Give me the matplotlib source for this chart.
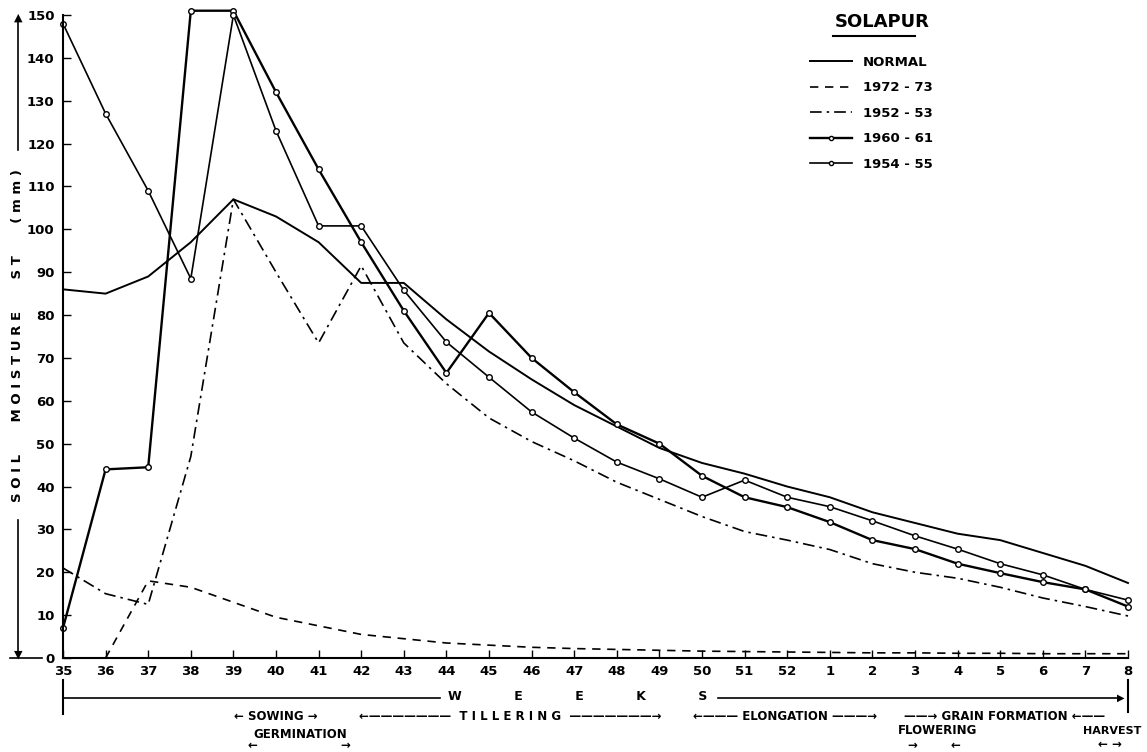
import matplotlib
matplotlib.use("Agg")
import matplotlib.pyplot as plt
from matplotlib.lines import Line2D

weeks = ["35", "36", "37", "38", "39", "40", "41", "42", "43", "44", "45", "46", "47",
         "48", "49", "50", "51", "52", "1", "2", "3", "4", "5", "6", "7", "8"]

normal = [86, 85, 89, 97, 107, 103, 97, 87.5, 87.5, 79, 71.5, 65, 59, 54, 49, 45.5,
          43, 40, 37.5, 34, 31.5, 29, 27.5, 24.5, 21.5, 17.5]
y1972 = [None, 0, 18, 16.5, 13, 9.5, 7.5, 5.5, 4.5, 3.5, 3, 2.5, 2.2, 2, 1.8, 1.6,
         1.5, 1.4, 1.3, 1.2, 1.2, 1.1, 1.1, 1, 1, 1]
y1952 = [21, 15, 12.5, 47, 107, 90, 73.5, 91.5, 73.5, 64, 56, 50.5, 46, 41, 37, 33,
         29.5, 27.5, 25.3, 22, 20, 18.6, 16.5, 14, 12, 9.8]
y1960 = [7, 44, 44.5, 151, 151, 132, 114, 97, 81, 66.5, 80.5, 70, 62, 54.5, 50, 42.5,
         37.5, 35.2, 31.7, 27.5, 25.4, 22, 19.8, 17.7, 16, 12]
y1954 = [148, 127, 109, 88.5, 150, 123, 100.8, 100.8, 85.8, 73.7, 65.5, 57.4, 51.3,
         45.7, 41.8, 37.5, 41.5, 37.5, 35.3, 32, 28.5, 25.4, 22, 19.4, 16, 13.5]

W, H = 1147, 752
fig = plt.figure(figsize=(W / 100, H / 100), dpi=100)
ax = fig.add_axes([63 / W, 1 - 658 / H, (1128 - 63) / W, (658 - 15) / H])

x = list(range(len(weeks)))
k = "black"
ax.plot(x, normal, color=k, lw=1.4, clip_on=False)
ax.plot(x[1:], y1972[1:], color=k, lw=1.2, ls=(0, (5, 4)), clip_on=False)
ax.plot(x, y1952, color=k, lw=1.2, ls=(0, (7, 3, 1.5, 3)), clip_on=False)
ax.plot(x, y1960, color=k, lw=1.7, marker="o", ms=4, mfc="white", mew=1, clip_on=False)
ax.plot(x, y1954, color=k, lw=1.2, marker="o", ms=4, mfc="white", mew=1, clip_on=False)

ax.set_xlim(0, len(weeks) - 1)
ax.set_ylim(0, 150)
ax.set_xticks(x)
ax.set_xticklabels(weeks)
ax.set_yticks(range(0, 151, 10))
for s in ["top", "right"]:
    ax.spines[s].set_visible(False)
for s in ["left", "bottom"]:
    ax.spines[s].set_linewidth(1.5)
ax.tick_params(direction="in", length=6, width=1, labelsize=9.5, pad=5)
for t in ax.get_xticklabels() + ax.get_yticklabels():
    t.set_fontweight("bold")
ax.tick_params(axis="y", pad=6)

# legend
handles = [
    Line2D([], [], color=k, lw=1.4),
    Line2D([], [], color=k, lw=1.2, ls=(0, (5, 4))),
    Line2D([], [], color=k, lw=1.2, ls=(0, (7, 3, 1.5, 3))),
    Line2D([], [], color=k, lw=1.7, marker="o", ms=3, mfc="white", markevery=[0]),
    Line2D([], [], color=k, lw=1.2, marker="o", ms=3, mfc="white", markevery=[1]),
]
labels = ["NORMAL", "1972 - 73", "1952 - 53", "1960 - 61", "1954 - 55"]
leg = ax.legend(handles, labels, loc="upper left", bbox_to_anchor=(735 / 1065, 1 - 29 / 643),
                frameon=False, handlelength=3.2, labelspacing=0.95,
                prop={"weight": "bold", "size": 9.5})


def fx(px):
    return px / W


def fy(py):
    return 1 - py / H


fig.text(fx(835), fy(22), "SOLAPUR", fontsize=13, fontweight="bold", va="center", ha="left")
fig.add_artist(Line2D([fx(833), fx(915)], [fy(36), fy(36)], color=k, lw=1.5))

# y-axis title with arrows
fig.text(fx(18), fy(336), "S O I L       M O I S T U R E       S T       ( m m )", rotation=90,
         fontsize=9.5, fontweight="bold", ha="center", va="center")
fig.add_artist(Line2D([fx(18), fx(18)], [fy(150), fy(18)], color=k, lw=1.2))
fig.text(fx(18), fy(18), "▲", fontsize=8, ha="center", va="center")
fig.add_artist(Line2D([fx(18), fx(18)], [fy(520), fy(655)], color=k, lw=1.2))
fig.text(fx(18), fy(655), "▼", fontsize=8, ha="center", va="center")
fig.add_artist(Line2D([fx(10), fx(42)], [fy(658), fy(658)], color=k, lw=1.2))

# weeks line
fig.add_artist(Line2D([fx(63), fx(63)], [fy(680), fy(714)], color=k, lw=1.5))
fig.add_artist(Line2D([fx(1128), fx(1128)], [fy(680), fy(712)], color=k, lw=1.5))
fig.add_artist(Line2D([fx(63), fx(440)], [fy(698), fy(698)], color=k, lw=1.2))
fig.text(fx(578), fy(697), "W            E            E            K            S", fontsize=9,
         fontweight="bold", ha="center", va="center")
fig.add_artist(Line2D([fx(718), fx(1120)], [fy(698), fy(698)], color=k, lw=1.2))
fig.text(fx(1121), fy(698), "▶", fontsize=7, ha="center", va="center")

st = dict(fontsize=8.5, fontweight="bold", ha="center", va="center")
fig.text(fx(276), fy(716), "← SOWING →", **st)
fig.text(fx(510), fy(716), "←———————  T I L L E R I N G  ———————→", **st)
fig.text(fx(785), fy(716), "←——— ELONGATION ———→", **st)
fig.text(fx(1005), fy(716), "——→ GRAIN FORMATION ←——", **st)
fig.text(fx(300), fy(734), "GERMINATION", **st)
fig.text(fx(252), fy(745), "←", **st)
fig.text(fx(345), fy(745), "→", **st)
fig.text(fx(938), fy(731), "FLOWERING", **st)
fig.text(fx(912), fy(745), "→", **st)
fig.text(fx(955), fy(745), "←", **st)
fig.text(fx(1112), fy(731), "HARVEST", fontsize=8, fontweight="bold", ha="center", va="center")
fig.text(fx(1110), fy(745), "← →", **st)

fig.savefig("out.png", dpi=100)
